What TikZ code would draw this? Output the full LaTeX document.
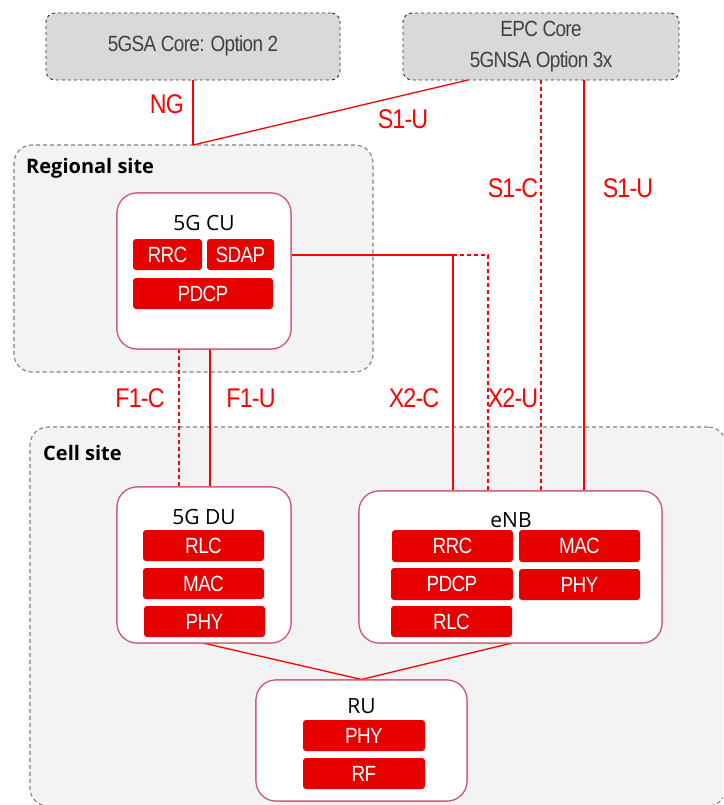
\documentclass[tikz,border=0pt]{standalone}
\usepackage{fontspec}
\setmainfont{Open Sans}
\newfontfamily\cond[FakeStretch=0.86,LetterSpace=-3]{Liberation Sans}
\usetikzlibrary{calc}
\definecolor{blockred}{HTML}{E60000}
\definecolor{linered}{HTML}{FF0000}
\definecolor{unitborder}{HTML}{D0506E}
\definecolor{corefill}{HTML}{D9D9D9}
\definecolor{sitefill}{HTML}{F3F3F3}
\definecolor{sitedash}{HTML}{808080}
\definecolor{coretext}{HTML}{404040}
\tikzset{
  core/.style={draw=black!80, dashed, fill=corefill, rounded corners=9pt, line width=0.9pt, inner sep=0pt},
  site/.style={draw=sitedash, dashed, fill=sitefill, rounded corners=18pt, line width=1.1pt, inner sep=0pt, dash pattern=on 4pt off 3pt},
  unit/.style={draw=unitborder, fill=white, rounded corners=20pt, line width=1.1pt, inner sep=0pt},
  block/.style={fill=blockred, draw=none, rounded corners=3pt, inner sep=0pt, minimum height=31pt, text=white, font=\cond\fontsize{22}{24}\selectfont},
  title/.style={font=\fontsize{21}{23}\selectfont, text=black, inner sep=0pt},
  sitelabel/.style={font=\bfseries\fontsize{20}{22}\selectfont, text=black, inner sep=0pt, anchor=west},
  iflabel/.style={font=\cond\fontsize{27}{29}\selectfont, text=linered, inner sep=0pt},
  coretxt/.style={font=\cond\fontsize{22}{24}\selectfont, text=coretext, inner sep=0pt},
  solidlink/.style={draw=linered, line width=1.3pt},
  dashlink/.style={draw=linered, line width=1.3pt, dash pattern=on 4pt off 3pt},
}
\begin{document}
\begin{tikzpicture}[x=1pt,y=-1pt]
\useasboundingbox (0,0) rectangle (723,805);
% containers
\node[site, minimum width=359pt, minimum height=227pt] (regional) at (193.5,258.5) {};
\begin{scope}
\clip (0,0) rectangle (723,805);
\node[site, minimum width=696pt, minimum height=379pt] (cell) at (378,616.5) {};
\end{scope}
\node[sitelabel] (regionallbl) at (26,168) {Regional site};
\node[sitelabel] (celllbl) at (43,453) {Cell site};
% cores
\node[core, minimum width=294pt, minimum height=67pt] (core5g) at (193,46.5) {};
\node[coretxt] (core5gtxt) at (193,46) {5GSA Core: Option 2};
\node[core, minimum width=276pt, minimum height=67pt] (epc) at (541,46.5) {};
\node[coretxt] (epctxt1) at (541,29) {EPC Core};
\node[coretxt] (epctxt2) at (541,62) {5GNSA Option 3x};
% units (shapes first for anchors)
\node[unit, minimum width=174pt, minimum height=156pt] (cu) at (204,271) {};
\node[unit, minimum width=174pt, minimum height=156pt] (du) at (204,565) {};
\node[unit, minimum width=303pt, minimum height=152pt] (enb) at (510.5,567) {};
\node[unit, minimum width=211pt, minimum height=121pt] (ru) at (361.5,740.5) {};
% coordinates
\coordinate (ngj) at (193,145);
\coordinate (epcs1u) at (468,80);
\coordinate (x2c) at (453,255);
\coordinate (x2u) at (488,255);
\coordinate (s1u) at (584,80);
\coordinate (f1c) at (179,349);
\coordinate (f1u) at (210,349);
\coordinate (dubot) at (203,643);
\coordinate (enbbot) at (512,643);
% connectors
\draw[solidlink] (core5g.south) -- (ngj);
\draw[solidlink] (ngj) -- (epcs1u);
\draw[dashlink] (epc.south) -- (epc.south |- enb.north);
\draw[solidlink] (s1u) -- (s1u |- enb.north);
\draw[solidlink] (cu.east |- x2c) -- (x2c) -- (x2c |- enb.north);
\draw[dashlink] (x2c) -- (x2u) -- (x2u |- enb.north);
\draw[dashlink] (f1c) -- (f1c |- du.north);
\draw[solidlink] (f1u) -- (f1u |- du.north);
\draw[solidlink] (dubot) -- (ru.north) -- (enbbot);
% redraw units on top of connectors
\node[unit, minimum width=174pt, minimum height=156pt] (cu2) at (cu) {};
\node[unit, minimum width=174pt, minimum height=156pt] (du2) at (du) {};
\node[unit, minimum width=303pt, minimum height=152pt] (enb2) at (enb) {};
\node[unit, minimum width=211pt, minimum height=121pt] (ru2) at (ru) {};
% unit titles
\node[title] (cutitle) at (204,223) {5G CU};
\node[title] (dutitle) at (204,517) {5G DU};
\node[title] (enbtitle) at (511,520) {eNB};
\node[title] (rutitle) at (361.5,706) {RU};
% blocks
\node[block, minimum width=69pt] (currc) at (167.5,254.5) {RRC};
\node[block, minimum width=67pt] (cusdap) at (240.5,254.5) {SDAP};
\node[block, minimum width=140pt] (cupdcp) at (203,293.5) {PDCP};
\node[block, minimum width=121pt] (durlc) at (203.5,545.5) {RLC};
\node[block, minimum width=121pt] (dumac) at (203.5,583.5) {MAC};
\node[block, minimum width=121pt] (duphy) at (204.5,621.5) {PHY};
\node[block, minimum width=121pt, minimum height=32pt] (enbrrc) at (452.5,546) {RRC};
\node[block, minimum width=121pt, minimum height=32pt] (enbmac) at (579.5,546) {MAC};
\node[block, minimum width=122pt, minimum height=32pt] (enbpdcp) at (452,584) {PDCP};
\node[block, minimum width=121pt] (enbphy) at (579.5,584.5) {PHY};
\node[block, minimum width=121pt] (enbrlc) at (451.5,621.5) {RLC};
\node[block, minimum width=122pt] (ruphy) at (364,735.5) {PHY};
\node[block, minimum width=122pt] (rurf) at (364,773.5) {RF};
% interface labels
\node[iflabel] (nglbl) at (167,104) {NG};
\node[iflabel] (s1ulbl1) at (403,119) {S1-U};
\node[iflabel] (s1clbl) at (513,188) {S1-C};
\node[iflabel] (s1ulbl2) at (628,188) {S1-U};
\node[iflabel] (f1clbl) at (140,398) {F1-C};
\node[iflabel] (f1ulbl) at (251,398) {F1-U};
\node[iflabel] (x2clbl) at (414,398) {X2-C};
\node[iflabel] (x2ulbl) at (513,398) {X2-U};
\end{tikzpicture}
\end{document}
